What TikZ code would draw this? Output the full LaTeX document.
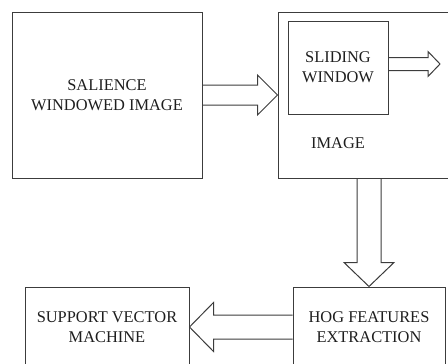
\documentclass[tikz,border=0pt]{standalone}
\usepackage{fontspec}
\setmainfont{Liberation Serif}
\usepackage{xcolor}
\usepackage{tikz}
\usetikzlibrary{calc}
\definecolor{linegray}{HTML}{3C3C3C}
\definecolor{textgray}{HTML}{1E1E1E}
\tikzset{ block/.style = {rectangle, draw=linegray, line width=1pt, align=center, inner sep=0pt, text=textgray, font=\fontsize{16.4}{20}\selectfont} }
\tikzset{ plain_text/.style = {align=center, inner sep=0pt, text=textgray, font=\fontsize{16.4}{20}\selectfont} }
\tikzset{ fat_arrow/.style = {draw=linegray, line width=1pt, line join=miter} }
% hollow block arrow: from, to, shaft half width, head half width, head length
\newcommand{\blockarrow}[5]{%
  \coordinate (h) at ($(#2)!#5!(#1)$);
  \draw[fat_arrow] ($(#1)!#3!90:(#2)$) -- ($(h)!#3!90:(#2)$) -- ($(h)!#4!90:(#2)$) -- (#2)
    -- ($(h)!#4!-90:(#2)$) -- ($(h)!#3!-90:(#2)$) -- ($(#1)!#3!-90:(#2)$);
}

\begin{document}
\begin{tikzpicture}[x=1pt,y=-1pt]
    \useasboundingbox (0,0) rectangle (448,364);
    \clip (0,0) rectangle (448,364);
    \node[block, minimum width=190pt, minimum height=166pt] (salience) at (107, 95) {SALIENCE\\WINDOWED IMAGE};
    \node[block, minimum width=190pt, minimum height=166pt] (image) at (373, 95) {};
    \node[block, minimum width=100pt, minimum height=93pt] (sliding) at (338, 67.5) {SLIDING\\WINDOW};
    \node[plain_text] (imagelabel) at (338, 143) {IMAGE};
    \node[block, minimum width=152pt, minimum height=80pt] (hog) at (369, 327) {HOG FEATURES\\EXTRACTION};
    \node[block, minimum width=164pt, minimum height=80pt] (svm) at (107, 327) {SUPPORT VECTOR\\MACHINE};
    \coordinate (slideout) at (440, 64);
    \coordinate (slidein) at (sliding.east |- slideout);
    \coordinate (imageout) at (hog.north |- image.south);
    \blockarrow{salience.east}{image.west}{10pt}{20pt}{20pt}
    \blockarrow{slidein}{slideout}{6.5pt}{12.5pt}{12pt}
    \blockarrow{imageout}{hog.north}{12pt}{25pt}{24pt}
    \blockarrow{hog.west}{svm.east}{12pt}{24.5pt}{24pt}
\end{tikzpicture}
\end{document}
